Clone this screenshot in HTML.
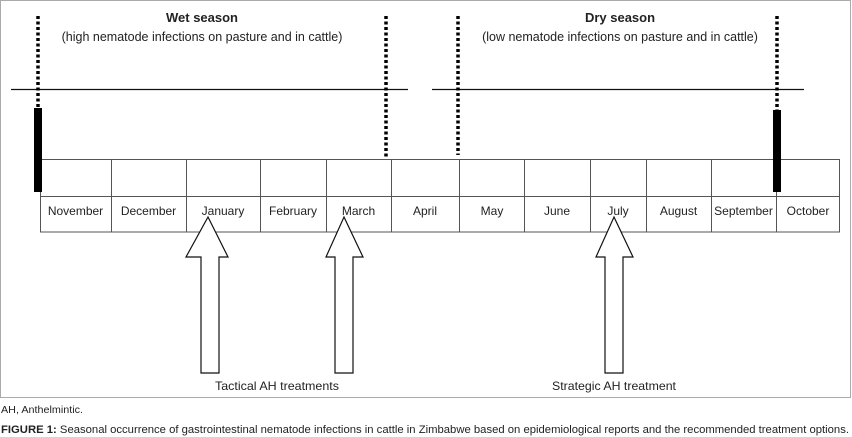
<!DOCTYPE html>
<html><head><meta charset="utf-8"><style>
html,body{margin:0;padding:0;background:#fff}
svg{display:block}
text{font-family:"Liberation Sans",sans-serif;fill:#222}
</style></head><body>
<svg width="852" height="437" viewBox="0 0 852 437" xmlns="http://www.w3.org/2000/svg">
<rect x="0.5" y="0.5" width="850" height="397" fill="#fff" stroke="#aaa" stroke-width="1"/>
<!-- horizontal lines -->
<line x1="11" y1="89.5" x2="408" y2="89.5" stroke="#111" stroke-width="1.3"/>
<line x1="432" y1="89.5" x2="804" y2="89.5" stroke="#111" stroke-width="1.3"/>
<!-- table -->
<g stroke="#555" stroke-width="1" fill="none">
<rect x="40.5" y="159.5" width="799" height="72.5"/>
<line x1="40" y1="196.5" x2="840" y2="196.5"/>
<line x1="111.5" y1="159" x2="111.5" y2="232"/>
<line x1="186.5" y1="159" x2="186.5" y2="232"/>
<line x1="260.5" y1="159" x2="260.5" y2="232"/>
<line x1="326.5" y1="159" x2="326.5" y2="232"/>
<line x1="391.5" y1="159" x2="391.5" y2="232"/>
<line x1="459.5" y1="159" x2="459.5" y2="232"/>
<line x1="524.5" y1="159" x2="524.5" y2="232"/>
<line x1="590.5" y1="159" x2="590.5" y2="232"/>
<line x1="646.5" y1="159" x2="646.5" y2="232"/>
<line x1="711.5" y1="159" x2="711.5" y2="232"/>
<line x1="776.5" y1="159" x2="776.5" y2="232"/>
</g>
<!-- dotted lines -->
<g stroke="#000" stroke-width="3.5" stroke-dasharray="3,2.5">
<line x1="38" y1="16" x2="38" y2="108"/>
<line x1="386" y1="16" x2="386" y2="158"/>
<line x1="458" y1="16" x2="458" y2="155"/>
<line x1="777" y1="16" x2="777" y2="110"/>
</g>
<rect x="34" y="108" width="8" height="84" fill="#000"/>
<rect x="773" y="110" width="8" height="82" fill="#000"/>
<!-- titles -->
<text x="202" y="22" font-size="13" font-weight="bold" text-anchor="middle">Wet season</text>
<text x="202" y="41" font-size="12.5" text-anchor="middle">(high nematode infections on pasture and in cattle)</text>
<text x="620" y="22" font-size="13" font-weight="bold" text-anchor="middle">Dry season</text>
<text x="620" y="41" font-size="12.5" text-anchor="middle">(low nematode infections on pasture and in cattle)</text>
<!-- months -->
<g font-size="12" text-anchor="middle">
<text x="75.5" y="215">November</text>
<text x="148.5" y="215">December</text>
<text x="223" y="215">January</text>
<text x="293" y="215">February</text>
<text x="358.5" y="215">March</text>
<text x="425" y="215">April</text>
<text x="492" y="215">May</text>
<text x="557" y="215">June</text>
<text x="618" y="215">July</text>
<text x="678.5" y="215">August</text>
<text x="743.5" y="215">September</text>
<text x="808" y="215">October</text>
</g>
<!-- arrows -->
<g fill="#fff" stroke="#111" stroke-width="1.2">
<polygon points="208,217 228,257 219,257 219,373 201,373 201,257 186,257"/>
<polygon points="344,217 363,257 353,257 353,373 335,373 335,257 326,257"/>
<polygon points="614,217 633,257 623,257 623,373 605,373 605,257 596,257"/>
</g>
<text x="277" y="390" font-size="12" text-anchor="middle" textLength="124" lengthAdjust="spacingAndGlyphs">Tactical AH treatments</text>
<text x="614" y="390" font-size="12" text-anchor="middle" textLength="124" lengthAdjust="spacingAndGlyphs">Strategic AH treatment</text>
<!-- captions -->
<text x="1" y="413" font-size="10" textLength="82" lengthAdjust="spacingAndGlyphs">AH, Anthelmintic.</text>
<text x="1" y="433" font-size="11" textLength="848" lengthAdjust="spacingAndGlyphs"><tspan font-weight="bold">FIGURE 1:</tspan> Seasonal occurrence of gastrointestinal nematode infections in cattle in Zimbabwe based on epidemiological reports and the recommended treatment options.</text>
</svg>
</body></html>
